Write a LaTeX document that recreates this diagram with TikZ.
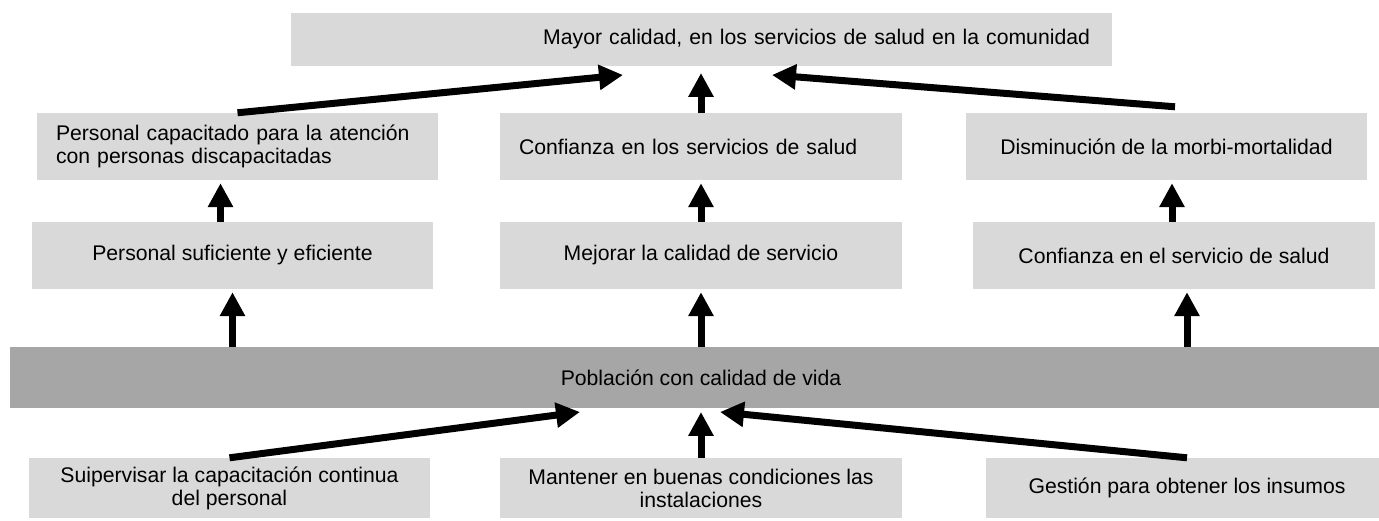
\documentclass[tikz,border=0pt]{standalone}
\usepackage{fontspec}
\setmainfont{Liberation Sans}
\usetikzlibrary{arrows.meta}
\usetikzlibrary{positioning}
\definecolor{cajagris}{RGB}{217,217,217}
\definecolor{bandagris}{RGB}{166,166,166}
\tikzset{
  caja/.style={fill=cajagris, inner sep=0pt, minimum width=401pt, minimum height=67pt,
    font=\fontsize{21.2}{23}\selectfont, align=center},
  banda/.style={caja, fill=bandagris, minimum width=1382pt, minimum height=61pt},
  flecha/.style={line width=7pt, -{Triangle[length=24pt,width=24pt]}}
}

\begin{document}
\begin{tikzpicture}[x=1pt,y=1pt]
    \useasboundingbox (0,0) rectangle (1379,521);

    % Fin
    \node[caja, minimum width=821pt, minimum height=53pt, text width=777pt, align=right, inner xsep=22pt]
        (mayor) at (701.5,481.5) {Mayor calidad, en los servicios de salud en la comunidad};

    % Efectos
    \node[caja, text width=363pt, align=left, inner xsep=19pt] (perscap) at (237.5,374.5)
        {Personal capacitado para la atención\\con personas discapacitadas};
    \node[caja, text width=364pt, align=left, inner xsep=19pt] (confserv) at (701,374.5)
        {Confianza en los servicios de salud};
    \node[caja] (dismin) at (1166.5,374.5) {Disminución de la morbi-mortalidad};

    \node[caja] (persuf) at (232.5,265.5) {Personal suficiente y eficiente};
    \node[caja, minimum width=402pt] (mejorar) at (701,265.5) {Mejorar la calidad de servicio};
    \node[caja, minimum width=402pt] (confsal) at (1174,265.5) {Confianza en el servicio de salud};

    % Objetivo central
    \node[banda] (poblacion) at (701,143.5) {Población con calidad de vida};

    % Medios
    \node[caja, minimum height=60pt] (supervisar) at (229.5,33)
        {Suipervisar la capacitación continua\\del personal};
    \node[caja, minimum width=402pt, minimum height=60pt] (mantener) at (701,33)
        {Mantener en buenas condiciones las\\instalaciones};
    \node[caja, minimum width=402pt, minimum height=60pt] (gestion) at (1187,33)
        {Gestión para obtener los insumos};

    % Puntas de las flechas
    \coordinate (mayorL) at (623,446);
    \coordinate (mayorC) at (701,448);
    \coordinate (mayorR) at (772,446);
    \coordinate (poblL) at (580,109);
    \coordinate (poblC) at (701,109);
    \coordinate (poblR) at (720,109);

    % Flechas
    \draw[flecha] (perscap.north) -- (mayorL);
    \draw[flecha] (confserv.north) -- (mayorC);
    \draw[flecha] ([xshift=8.5pt,yshift=6pt]dismin.north) -- (mayorR);

    \draw[flecha] ([xshift=-12pt]persuf.north) -- ([xshift=-17pt,yshift=-3pt]perscap.south);
    \draw[flecha] (mejorar.north) -- ([yshift=-3pt]confserv.south);
    \draw[flecha] ([xshift=-2pt]confsal.north) -- ([xshift=5.5pt,yshift=-3pt]dismin.south);

    \draw[flecha] (persuf |- poblacion.north) -- ([yshift=-3pt]persuf.south);
    \draw[flecha] (mejorar |- poblacion.north) -- ([yshift=-3pt]mejorar.south);
    \draw[flecha] ([xshift=13pt]confsal |- poblacion.north) -- ([xshift=13pt,yshift=-3pt]confsal.south);

    \draw[flecha] (supervisar.north) -- (poblL);
    \draw[flecha] (mantener.north) -- (poblC);
    \draw[flecha] (gestion.north) -- (poblR);
\end{tikzpicture}
\end{document}
